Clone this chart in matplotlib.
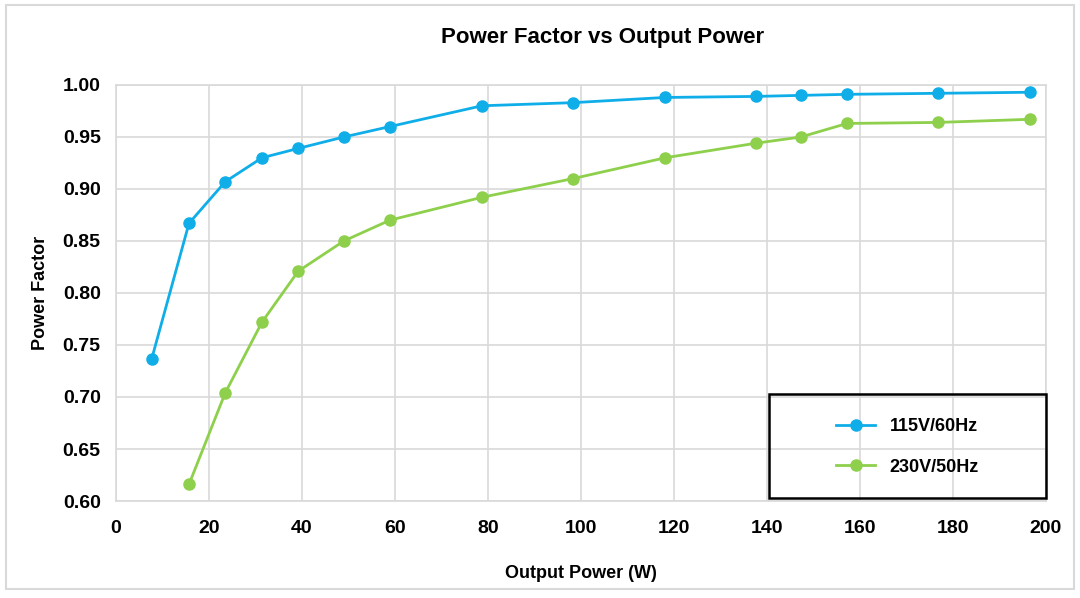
import matplotlib
matplotlib.use("Agg")
import matplotlib.pyplot as plt
from matplotlib.patches import Rectangle

# 出力電力 (W)
power_115 = [7.7, 15.7, 23.5, 31.4, 39.2, 49.0, 58.9, 78.7, 98.3, 118.1, 137.6, 147.3, 157.2, 176.8, 196.6]
pf_115 = [0.737, 0.867, 0.907, 0.930, 0.939, 0.950, 0.960, 0.980, 0.983, 0.988, 0.989, 0.990, 0.991, 0.992, 0.993]

power_230 = [15.7, 23.5, 31.4, 39.2, 49.0, 58.9, 78.7, 98.3, 118.1, 137.6, 147.3, 157.2, 176.8, 196.6]
pf_230 = [0.616, 0.704, 0.772, 0.821, 0.850, 0.870, 0.892, 0.910, 0.930, 0.944, 0.950, 0.963, 0.964, 0.967]

labels = ['115V/60Hz', '230V/50Hz']
colors = ['#10aee8', '#8ed04c']

plt.rcParams['font.family'] = ['Liberation Sans', 'DejaVu Sans']

fig = plt.figure(figsize=(10.8, 5.98), dpi=100)
ax = fig.add_axes([0.1074, 0.1622, 0.8611, 0.6957])

# 外枠
fig.patches.append(Rectangle((6 / 1080, 1 - 589 / 598), 1068 / 1080, 584 / 598,
                             transform=fig.transFigure, fill=False,
                             edgecolor='#d9d9d9', linewidth=1.5))

ax.plot(power_115, pf_115, '-o', color=colors[0], linewidth=2, markersize=8, label=labels[0])
ax.plot(power_230, pf_230, '-o', color=colors[1], linewidth=2, markersize=8, label=labels[1])

ax.set_xlim(0, 200)
ax.set_ylim(0.60, 1.00)
ax.set_xticks(range(0, 201, 20))
ax.set_yticks([0.60 + 0.05 * i for i in range(9)])
ax.set_yticklabels([f'{0.60 + 0.05 * i:.2f}' for i in range(9)])
ax.grid(True, color='#d9d9d9', linewidth=1.2)
ax.set_axisbelow(True)
for s in ax.spines.values():
    s.set_color('#d9d9d9')
    s.set_linewidth(1.2)
ax.tick_params(length=0, labelsize=14)
for t in ax.get_xticklabels() + ax.get_yticklabels():
    t.set_fontweight('bold')
ax.tick_params(axis='y', pad=11)
ax.tick_params(axis='x', pad=14)

ax.set_xlabel('Output Power (W)', fontsize=13, fontweight='bold', labelpad=20)
ax.set_ylabel('Power Factor', fontsize=13, fontweight='bold')
ax.yaxis.set_label_coords(-0.072, 0.5)
fig.text(0.558, 1 - 38 / 598, 'Power Factor vs Output Power', ha='center', va='center',
         fontsize=16, fontweight='bold')

# 凡例の枠（手描き）
ax.add_patch(Rectangle((0.702, 0.007), 0.298, 0.25, transform=ax.transAxes, fill=False,
                       edgecolor='black', linewidth=1.8, zorder=5, clip_on=False))
leg = ax.legend(loc='center', bbox_to_anchor=(0.851, 0.13), frameon=False,
                labelspacing=1.3, handlelength=2.2,
                prop={'weight': 'bold', 'size': 13})

fig.savefig('out.png', dpi=100)
